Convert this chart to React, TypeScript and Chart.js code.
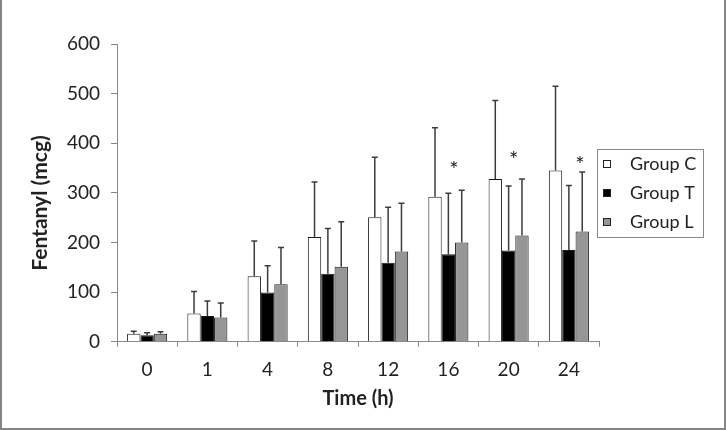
import React, { useEffect, useRef } from "react";
import { Chart, registerables } from "chart.js";

Chart.register(...registerables);

const categories = ["0", "1", "4", "8", "12", "16", "20", "24"];
const seriesNames = ["Group C", "Group T", "Group L"];
const groupC = [16, 57, 132, 211, 251, 292, 328, 345];
const groupT = [13, 52, 99, 137, 159, 176, 184, 185];
const groupL = [16, 49, 116, 151, 182, 200, 214, 222];
const groupCSD = [5, 44, 71, 111, 121, 139, 158, 170];
const groupTSD = [5, 30, 54, 91, 112, 123, 130, 130];
const groupLSD = [4, 29, 74, 91, 97, 105, 114, 120];
const starCategories = ["16", "20", "24"];
const starValues = [356, 376, 366];
const starBarOffsets = [0.42, 0.38, 0.83];
const yTicks = [0, 100, 200, 300, 400, 500, 600];

const FONT = "Lato, 'Open Sans', sans-serif";
const fills = ["#ffffff", "#000000", "#969696"];

export default function App() {
  const ref = useRef<HTMLCanvasElement | null>(null);

  useEffect(() => {
    const canvas = ref.current;
    if (!canvas) return;
    const sds = [groupCSD, groupTSD, groupLSD];

    const framePlugin = {
      id: "frame",
      beforeDraw(chart: any) {
        const ctx = chart.ctx;
        ctx.save();
        ctx.fillStyle = "#ffffff";
        ctx.fillRect(0, 0, chart.width, chart.height);
        ctx.restore();
      },
      afterDraw(chart: any) {
        const ctx = chart.ctx;
        ctx.save();
        ctx.fillStyle = "#858585";
        ctx.fillRect(0, 0, 2, chart.height);
        ctx.fillRect(chart.width - 2, 0, 2, chart.height);
        ctx.fillRect(0, chart.height - 2, chart.width, 2);
        ctx.restore();
      },
    };

    const errorPlugin = {
      id: "errorbars",
      afterDatasetsDraw(chart: any) {
        const ctx = chart.ctx;
        const yScale = chart.scales.y;
        ctx.save();
        ctx.strokeStyle = "#3c3c3c";
        ctx.lineWidth = 1.5;
        chart.data.datasets.forEach((ds: any, di: number) => {
          const meta = chart.getDatasetMeta(di);
          meta.data.forEach((bar: any, i: number) => {
            const top = yScale.getPixelForValue(ds.data[i] + sds[di][i]);
            ctx.beginPath();
            ctx.moveTo(bar.x, bar.y);
            ctx.lineTo(bar.x, top);
            ctx.moveTo(bar.x - 3, top);
            ctx.lineTo(bar.x + 3, top);
            ctx.stroke();
          });
        });
        // significance stars
        const xScale = chart.scales.x;
        const bw = chart.getDatasetMeta(1).data[0].width;
        ctx.fillStyle = "#222";
        ctx.font = `22px ${FONT}`;
        ctx.textAlign = "center";
        ctx.textBaseline = "middle";
        starCategories.forEach((c, k) => {
          const idx = categories.indexOf(c);
          const x = xScale.getPixelForValue(idx) + starBarOffsets[k] * bw;
          const y = yScale.getPixelForValue(starValues[k]);
          ctx.fillText("*", x, y + 5);
        });
        ctx.restore();
      },
    };

    const legendPlugin = {
      id: "boxlegend",
      afterDraw(chart: any) {
        const ctx = chart.ctx;
        const bx = 597, by = 149.5, bwid = 106, bh = 88;
        ctx.save();
        ctx.strokeStyle = "#888";
        ctx.lineWidth = 1;
        ctx.strokeRect(bx + 0.5, by, bwid, bh);
        ctx.font = `18px ${FONT}`;
        ctx.textBaseline = "middle";
        ctx.textAlign = "left";
        seriesNames.forEach((name, i) => {
          const cy = 164 + i * 29;
          ctx.fillStyle = fills[i];
          ctx.fillRect(603, cy - 4, 8, 8);
          ctx.strokeStyle = "#222";
          ctx.strokeRect(603.5, cy - 3.5, 7, 7);
          ctx.fillStyle = "#222";
          ctx.fillText(name, 630, cy);
        });
        ctx.restore();
      },
    };

    const ytitlePlugin = {
      id: "ytitle",
      afterDraw(chart: any) {
        const ctx = chart.ctx;
        ctx.save();
        ctx.translate(40, 203);
        ctx.rotate(-Math.PI / 2);
        ctx.font = `bold 21px ${FONT}`;
        ctx.fillStyle = "#222";
        ctx.textAlign = "center";
        ctx.textBaseline = "middle";
        ctx.fillText("Fentanyl (mcg)", 0, 0);
        ctx.restore();
      },
    };

    const chart = new Chart(canvas, {
      type: "bar",
      data: {
        labels: categories,
        datasets: [groupC, groupT, groupL].map((d, i) => ({
          label: seriesNames[i],
          data: d,
          backgroundColor: fills[i],
          borderColor: "#1a1a1a",
          borderWidth: 1,
          categoryPercentage: 0.665,
          barPercentage: 1,
        })),
      },
      options: {
        responsive: false,
        animation: false,
        layout: { padding: { top: 44, right: 127, bottom: 0, left: 0 } },
        plugins: {
          legend: { display: false },
          tooltip: { enabled: false },
        },
        scales: {
          x: {
            afterFit(scale: any) {
              scale.height = 88.3;
            },
            grid: {
              offset: true,
              drawOnChartArea: false,
              drawTicks: true,
              tickLength: 5,
              color: "#888",
            },
            border: { color: "#888", width: 1 },
            ticks: {
              color: "#222",
              font: { family: FONT, size: 19 },
              padding: 12,
            },
            title: {
              display: true,
              text: "Time (h)",
              color: "#222",
              font: { family: FONT, size: 20, weight: "bold" },
              padding: { top: 0, bottom: 19 },
            },
          },
          y: {
            min: 0,
            max: 600,
            afterFit(scale: any) {
              scale.width = 117;
            },
            afterBuildTicks(scale: any) {
              scale.ticks = yTicks.map((v) => ({ value: v }));
            },
            grid: {
              drawOnChartArea: false,
              drawTicks: true,
              tickLength: 6,
              color: "#888",
            },
            border: { color: "#888", width: 1 },
            ticks: {
              color: "#222",
              font: { family: FONT, size: 19 },
              padding: 11,
            },
          },
        },
      },
      plugins: [framePlugin, errorPlugin, legendPlugin, ytitlePlugin],
    } as any);

    return () => chart.destroy();
  }, []);

  return (
    <div style={{ position: "fixed", left: 0, top: 0, width: 726, height: 430 }}>
      <canvas ref={ref} width={726} height={430} style={{ width: 726, height: 430, display: "block" }} />
    </div>
  );
}
